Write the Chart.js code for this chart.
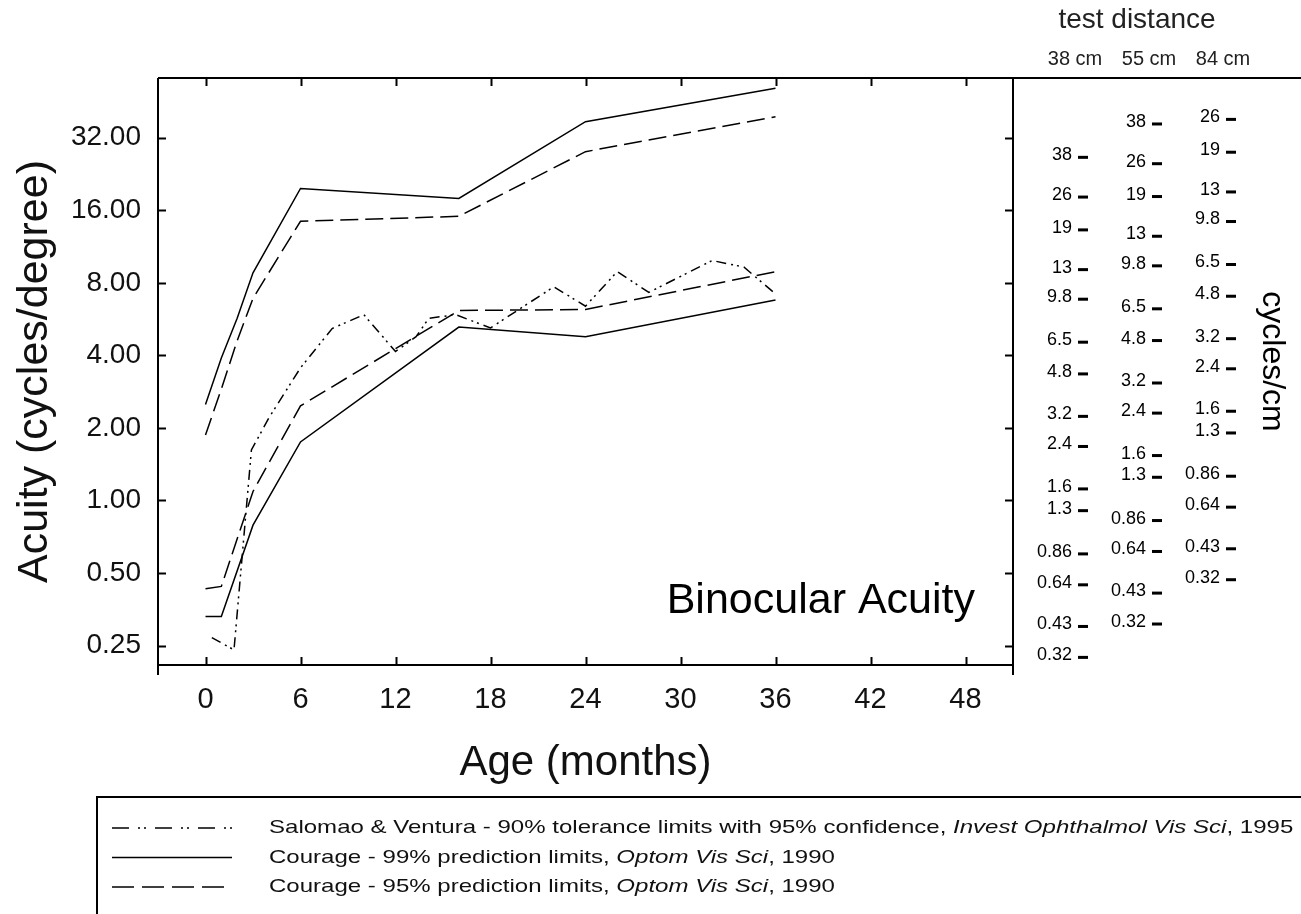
<!DOCTYPE html>
<html>
<head>
<meta charset="utf-8">
<title>Binocular Acuity</title>
<script src="https://cdn.jsdelivr.net/npm/chart.js@4"></script>
<style>
  html, body { margin: 0; padding: 0; background: #fff; }
  canvas { display: block; }
</style>
</head>
<body>
<canvas id="chart" width="1301" height="914"></canvas>
<script>
// ── Data ───────────────────────────────────────────────
const ageUpper99 = [0, 1, 2, 3, 6, 16, 24, 36];
const acuityUpper99 = [2.5, 3.9, 5.7, 8.8, 19.7, 17.9, 37.3, 51.3];
const ageUpper95 = [0, 1, 2, 3, 6, 16, 24, 36];
const acuityUpper95 = [1.87, 2.9, 4.6, 6.9, 14.4, 15.1, 28.0, 39.1];
const ageLower99 = [0, 1, 3, 6, 16, 24, 36];
const acuityLower99 = [0.33, 0.33, 0.79, 1.75, 5.24, 4.78, 6.79];
const ageLower95 = [0, 1, 3, 6, 16, 24, 36];
const acuityLower95 = [0.43, 0.44, 1.09, 2.47, 6.14, 6.2, 8.9];
const ageSalomao = [0.4, 1.8, 2.9, 4, 6, 8, 10, 12, 13.3, 14.1, 15.8, 18, 22, 24, 26, 28, 32, 34, 36];
const acuitySalomao = [0.27, 0.24, 1.62, 2.2, 3.55, 5.17, 5.9, 4.15, 4.78, 5.7, 5.9, 5.2, 7.7, 6.4, 8.9, 7.3, 9.9, 9.3, 7.2];

const xTicks = [0, 6, 12, 18, 24, 30, 36, 42, 48];
const yTicks = [0.25, 0.5, 1, 2, 4, 8, 16, 32];

// test distance columns (cycles/cm) and cm per degree at each distance
const distLabels = ['38 cm', '55 cm', '84 cm'];
const cmPerDegree = [0.698, 0.96, 1.466];
const cmCol38 = [38, 26, 19, 13, 9.8, 6.5, 4.8, 3.2, 2.4, 1.6, 1.3, 0.86, 0.64, 0.43, 0.32];
const cmCol55 = [38, 26, 19, 13, 9.8, 6.5, 4.8, 3.2, 2.4, 1.6, 1.3, 0.86, 0.64, 0.43, 0.32];
const cmCol84 = [26, 19, 13, 9.8, 6.5, 4.8, 3.2, 2.4, 1.6, 1.3, 0.86, 0.64, 0.43, 0.32];

const legendRows = [
  [['Salomao & Ventura - 90% tolerance limits with 95% confidence, ', false], ['Invest Ophthalmol Vis Sci', true], [', 1995', false]],
  [['Courage - 99% prediction limits, ', false], ['Optom Vis Sci', true], [', 1990', false]],
  [['Courage - 95% prediction limits, ', false], ['Optom Vis Sci', true], [', 1990', false]],
];

// ── Styles ─────────────────────────────────────────────
const FONT = "'Liberation Sans', Arial, Helvetica, sans-serif";
const DASH_DOT = [10, 5, 2, 4, 2, 5];
const DASHED = [18, 7];
const LEGEND_DASH = [[17, 9, 2, 4, 2, 9], [], [22, 8]];

const pts = (xs, ys) => xs.map((x, i) => ({ x, y: ys[i] }));

function line(name, xs, ys, dash) {
  return {
    label: name,
    data: pts(xs, ys),
    borderColor: '#000',
    borderWidth: 1.5,
    borderDash: dash,
    pointRadius: 0,
    tension: 0,
    fill: false,
  };
}

// ── Frame, inward ticks, right panel, legend ───────────
const decorPlugin = {
  id: 'decor',
  afterDraw(chart) {
    const ctx = chart.ctx;
    const xs = chart.scales.x, ys = chart.scales.y;
    const { left, right, top, bottom } = chart.chartArea;
    const W = chart.width;

    ctx.save();
    ctx.strokeStyle = '#000';
    ctx.fillStyle = '#000';
    ctx.lineWidth = 2;
    const seg = (x1, y1, x2, y2) => { ctx.beginPath(); ctx.moveTo(x1, y1); ctx.lineTo(x2, y2); ctx.stroke(); };

    // frame
    seg(left, top, W, top);
    seg(left, top, left, bottom + 10);
    seg(right, top, right, bottom + 10);
    seg(left, bottom, right, bottom);

    // inward tick marks on all four sides
    xs.ticks.forEach(t => {
      const px = Math.round(xs.getPixelForValue(t.value)) + 0.5;
      seg(px, bottom, px, bottom - 8);
      seg(px, top, px, top + 8);
    });
    ys.ticks.forEach(t => {
      const py = Math.round(ys.getPixelForValue(t.value)) + 0.5;
      seg(left, py, left + 8, py);
      seg(right, py, right - 8, py);
    });

    // panel label
    ctx.font = `43px ${FONT}`;
    ctx.textAlign = 'right';
    ctx.textBaseline = 'middle';
    ctx.fillText('Binocular Acuity', right - 38, ys.getPixelForValue(0.375) - 2);

    // test distance header
    ctx.textAlign = 'center';
    ctx.font = `28px ${FONT}`;
    ctx.fillStyle = '#222';
    ctx.fillText('test distance', right + 124, 20);
    const dashX = [right + 65, right + 139, right + 213];
    ctx.font = `20px ${FONT}`;
    distLabels.forEach((d, i) => ctx.fillText(d, dashX[i] - 3, 59));

    // cycles/cm columns, placed on the acuity scale
    ctx.fillStyle = '#000';
    ctx.font = `18px ${FONT}`;
    ctx.textAlign = 'right';
    [cmCol38, cmCol55, cmCol84].forEach((col, i) => {
      col.forEach(v => {
        const py = ys.getPixelForValue(v * cmPerDegree[i]);
        ctx.fillText(String(v), dashX[i] - 6, py - 2);
        ctx.fillRect(dashX[i], py - 1.5, 10, 3);
      });
    });

    // right axis title
    ctx.save();
    ctx.translate(right + 259, (top + bottom) / 2 - 10);
    ctx.rotate(Math.PI / 2);
    ctx.textAlign = 'center';
    ctx.font = `32px ${FONT}`;
    ctx.fillText('cycles/cm', 0, 0);
    ctx.restore();

    // legend box
    ctx.lineWidth = 2;
    ctx.strokeRect(97, 797, W + 10, 140);
    legendRows.forEach((row, r) => {
      const ly = 828 + r * 29.5;
      ctx.save();
      ctx.lineWidth = 1.5;
      ctx.setLineDash(LEGEND_DASH[r]);
      seg(112, ly, 232, ly);
      ctx.restore();

      ctx.save();
      ctx.translate(269, ly);
      ctx.scale(1.265, 1);
      ctx.textAlign = 'left';
      ctx.textBaseline = 'middle';
      ctx.fillStyle = '#111';
      let x = 0;
      row.forEach(([txt, italic]) => {
        ctx.font = `${italic ? 'italic ' : ''}19px ${FONT}`;
        ctx.fillText(txt, x, 0);
        x += ctx.measureText(txt).width;
      });
      ctx.restore();
    });
    ctx.restore();
  },
};

// ── Chart ──────────────────────────────────────────────
new Chart(document.getElementById('chart'), {
  type: 'line',
  data: {
    datasets: [
      line('Courage 99% upper', ageUpper99, acuityUpper99, []),
      line('Courage 99% lower', ageLower99, acuityLower99, []),
      line('Courage 95% upper', ageUpper95, acuityUpper95, DASHED),
      line('Courage 95% lower', ageLower95, acuityLower95, DASHED),
      line('Salomao & Ventura', ageSalomao, acuitySalomao, DASH_DOT),
    ],
  },
  options: {
    responsive: false,
    animation: false,
    layout: { padding: { left: 0, top: 78, right: 288, bottom: 0 } },
    plugins: { legend: { display: false }, tooltip: { enabled: false } },
    scales: {
      x: {
        type: 'linear',
        min: -3,
        max: 51,
        afterBuildTicks: s => { s.ticks = xTicks.map(v => ({ value: v })); },
        afterFit: s => { s.height = 249; },
        grid: { display: false },
        border: { display: false },
        ticks: { color: '#111', padding: 10, font: { family: FONT, size: 29 } },
        title: {
          display: true, text: 'Age (months)', color: '#111',
          font: { family: FONT, size: 42 }, padding: { top: 0, bottom: 125 },
        },
      },
      y: {
        type: 'logarithmic',
        min: 0.2077,
        max: 56.6,
        afterBuildTicks: s => { s.ticks = yTicks.map(v => ({ value: v })); },
        afterFit: s => { s.width = 158; },
        grid: { display: false },
        border: { display: false },
        ticks: {
          color: '#111', padding: 9, font: { family: FONT, size: 28 },
          callback: v => Number(v).toFixed(2),
        },
        title: {
          display: true, text: 'Acuity (cycles/degree)', color: '#111',
          font: { family: FONT, size: 43 }, padding: { top: 9, bottom: 0 },
        },
      },
    },
  },
  plugins: [decorPlugin],
});
</script>
</body>
</html>
